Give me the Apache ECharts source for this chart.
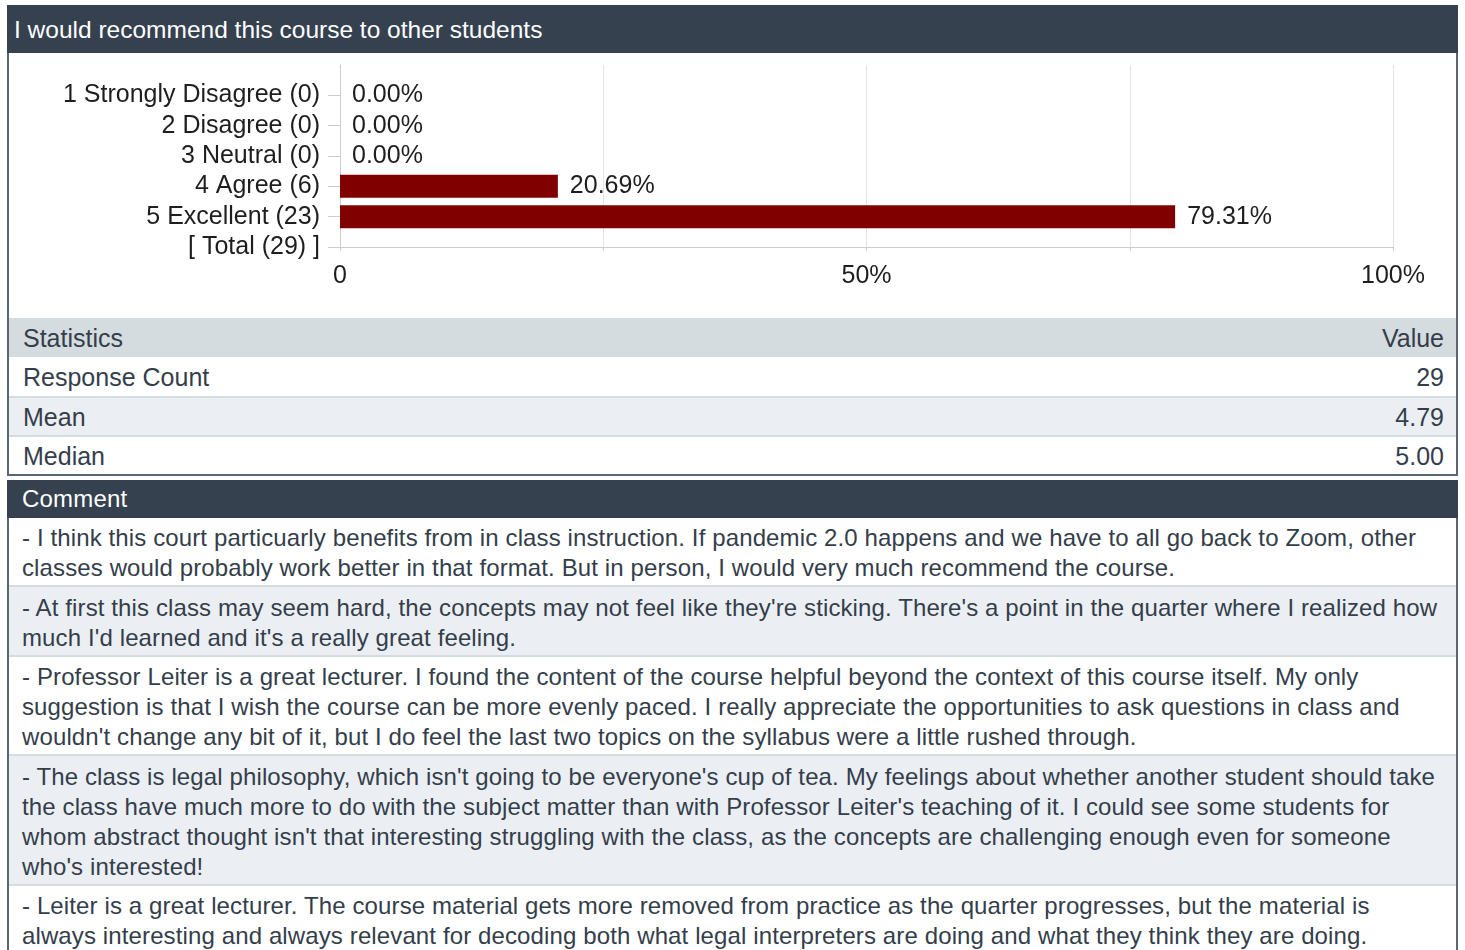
<!DOCTYPE html>
<html>
<head>
<meta charset="utf-8">
<script src="https://cdn.jsdelivr.net/npm/echarts@6/dist/echarts.min.js"></script>
<style>
  html, body { margin: 0; padding: 0; background: #ffffff; width: 1465px; height: 950px; overflow: hidden; }
  body { font-family: "Liberation Sans", Arial, sans-serif; color: #343e4b; }
  .panel { position: absolute; left: 7px; top: 5px; width: 1451px; height: 471px; box-sizing: border-box;
           border: 2px solid #5c6572; background: #fff; }
  .hdr { height: 46px; line-height: 46px; background: #364150; color: #fff; font-size: 24.5px; padding-left: 7px; margin: -2px -2px 0 -2px; padding-top: 2px; }
  #chart { position: absolute; left: -9px; top: 48px; width: 1465px; height: 263px; }
  .stats { position: absolute; left: 0; right: 0; top: 311px; }
  .srow { display: flex; justify-content: space-between; padding: 0 12px 0 14px; font-size: 25px; overflow: hidden; }
  .cpanel { position: absolute; left: 7px; top: 480px; width: 1451px; height: 480px; box-sizing: border-box;
            border-left: 2px solid #5c6572; border-right: 2px solid #5c6572; }
  .chdr { height: 38px; line-height: 38px; background: #364150; color: #fff; font-size: 24px; margin: 0 -2px; padding-left: 15px; letter-spacing: 0.2px; }
  .crow { padding: 5px 13px 2px 13px; font-size: 24px; line-height: 30px; white-space: nowrap; letter-spacing: 0.12px; }
</style>
</head>
<body>
<div class="panel">
  <div class="hdr" id="title"></div>
  <div id="chart"></div>
  <div class="stats" id="stats"></div>
</div>
<div class="cpanel" id="cpanel">
  <div class="chdr" id="chdr"></div>
</div>
<script>
const titleText = "I would recommend this course to other students";
const categories = ["1 Strongly Disagree (0)", "2 Disagree (0)", "3 Neutral (0)", "4 Agree (6)", "5 Excellent (23)", "[ Total (29) ]"];
const percentages = [0, 0, 0, 20.69, 79.31, null];
const xTickLabels = { 0: "0", 50: "50%", 100: "100%" };
const statsHeader = ["Statistics", "Value"];
const statsLabels = ["Response Count", "Mean", "Median"];
const statsValues = ["29", "4.79", "5.00"];
const commentHeader = "Comment";
const comments = [
  ["- I think this court particuarly benefits from in class instruction. If pandemic 2.0 happens and we have to all go back to Zoom, other",
   "classes would probably work better in that format. But in person, I would very much recommend the course."],
  ["- At first this class may seem hard, the concepts may not feel like they're sticking. There's a point in the quarter where I realized how",
   "much I'd learned and it's a really great feeling."],
  ["- Professor Leiter is a great lecturer. I found the content of the course helpful beyond the context of this course itself. My only",
   "suggestion is that I wish the course can be more evenly paced. I really appreciate the opportunities to ask questions in class and",
   "wouldn't change any bit of it, but I do feel the last two topics on the syllabus were a little rushed through."],
  ["- The class is legal philosophy, which isn't going to be everyone's cup of tea. My feelings about whether another student should take",
   "the class have much more to do with the subject matter than with Professor Leiter's teaching of it. I could see some students for",
   "whom abstract thought isn't that interesting struggling with the class, as the concepts are challenging enough even for someone",
   "who's interested!"],
  ["- Leiter is a great lecturer. The course material gets more removed from practice as the quarter progresses, but the material is",
   "always interesting and always relevant for decoding both what legal interpreters are doing and what they think they are doing."]
];

document.getElementById('title').textContent = titleText;
document.getElementById('chdr').textContent = commentHeader;

// statistics table
const stats = document.getElementById('stats');
function addStatRow(l, v, h, bg, sep) {
  const r = document.createElement('div');
  r.className = 'srow';
  r.style.height = h + 'px';
  r.style.lineHeight = (h + 2) + 'px';
  r.style.background = bg;
  if (sep) r.style.borderTop = '2px solid #d5dce0';
  const a = document.createElement('span'); a.textContent = l;
  const b = document.createElement('span'); b.textContent = v;
  r.appendChild(a); r.appendChild(b);
  stats.appendChild(r);
}
addStatRow(statsHeader[0], statsHeader[1], 39, '#d5dce0', false);
const statBg = ['#ffffff', '#ebeff3', '#ffffff'];
const statH = [39, 37, 37];
statsLabels.forEach((l, i) => addStatRow(l, statsValues[i], statH[i], statBg[i], i > 0));

// comments
const cpanel = document.getElementById('cpanel');
comments.forEach((lines, i) => {
  const r = document.createElement('div');
  r.className = 'crow';
  r.style.background = i % 2 === 1 ? '#ebeff3' : '#ffffff';
  if (i % 2 === 1) r.style.paddingTop = '6px';
  if (i > 0) r.style.borderTop = '2px solid #d5dce0';
  lines.forEach((t) => {
    const d = document.createElement('div');
    d.textContent = t;
    r.appendChild(d);
  });
  cpanel.appendChild(r);
});

// chart
const chart = echarts.init(document.getElementById('chart'), null, { renderer: 'canvas' });
const yData = [''].concat(categories);
const barData = [null].concat(percentages);
const font = '"Liberation Sans", Arial, sans-serif';
chart.setOption({
  animation: false,
  textStyle: { fontFamily: font },
  grid: { left: 340, right: 72, top: 10, bottom: 71, containLabel: false },
  xAxis: {
    type: 'value', min: 0, max: 100, interval: 25,
    axisLine: { show: true, lineStyle: { color: '#cccccc', width: 1 } },
    axisTick: { show: true, length: 4, lineStyle: { color: '#cccccc' } },
    splitLine: { show: true, lineStyle: { color: '#e3e3e3', width: 1 } },
    axisLabel: {
      margin: 17, fontSize: 25, color: '#1e1e1e', fontFamily: font,
      formatter: v => (xTickLabels[v] !== undefined ? xTickLabels[v] : '')
    }
  },
  yAxis: {
    type: 'category', inverse: true, boundaryGap: false, data: yData,
    axisLine: { show: true, lineStyle: { color: '#cccccc', width: 1 } },
    axisTick: { show: true, length: 12, interval: (idx) => idx !== 0, lineStyle: { color: '#cccccc' } },
    axisLabel: { margin: 20, fontSize: 25, color: '#1e1e1e', fontFamily: font, interval: 0 },
    splitLine: { show: false }
  },
  series: [{
    type: 'bar', data: barData, barWidth: 23,
    itemStyle: { color: '#800000' },
    label: {
      show: true, position: 'right', distance: 12, fontSize: 25, color: '#1e1e1e', fontFamily: font,
      formatter: p => (p.value == null ? '' : Number(p.value).toFixed(2) + '%')
    }
  }]
});
</script>
</body>
</html>
